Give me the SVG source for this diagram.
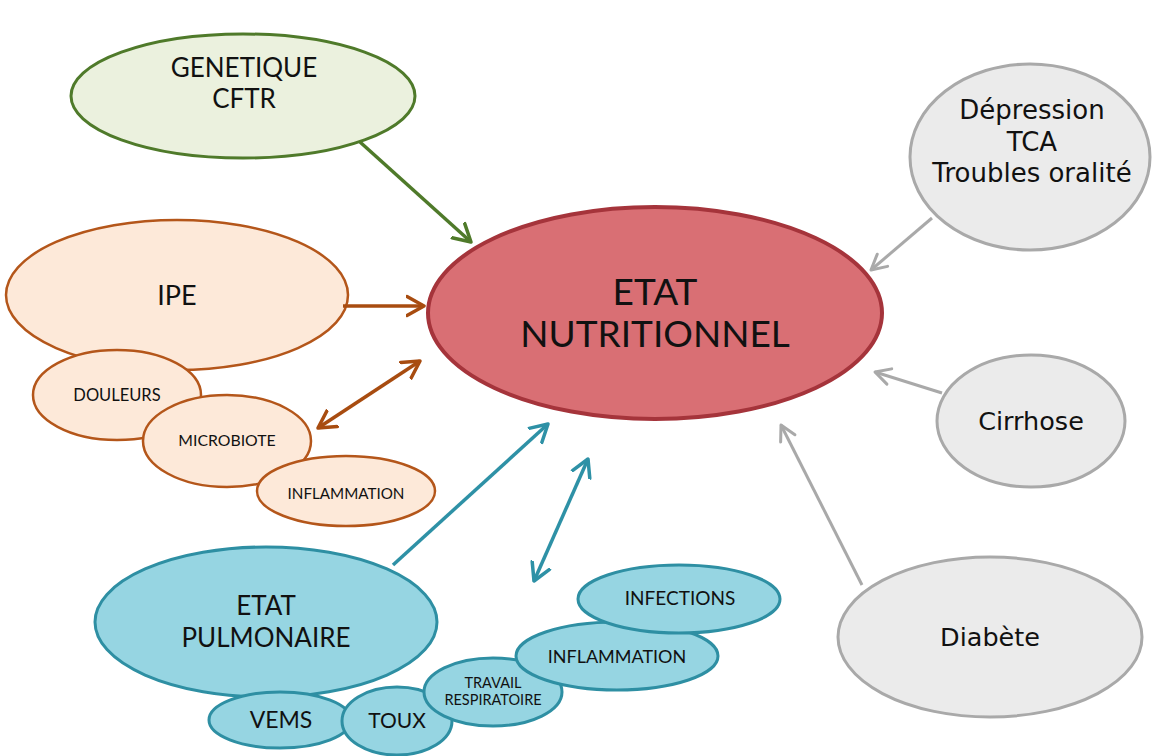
<svg xmlns="http://www.w3.org/2000/svg" width="1154" height="756" viewBox="0 0 1154 756">
<style>
text{font-family:Lato,"Liberation Sans",sans-serif;fill:#111;text-anchor:middle}
.g text{font-family:"DejaVu Sans","Liberation Sans",sans-serif}
.center{fill:#d96f74;stroke:#a5343b;stroke-width:4}
.green{fill:#ebf1de;stroke:#4f7a2a;stroke-width:3}
.orange{fill:#fde9d9;stroke:#b4561a;stroke-width:2.5}
.blue{fill:#96d5e2;stroke:#2e8fa3;stroke-width:3}
.gray{fill:#ebebeb;stroke:#a9a9a9;stroke-width:3}
.c{fill:none;stroke-width:3.5}
.cg{stroke:#4f7a2a}
.co{stroke:#a84c10}
.cb{stroke:#2e91a6}
.cgr{stroke:#a9a9a9;stroke-width:3}
</style>
<defs>
<marker id="ag" markerUnits="userSpaceOnUse" markerWidth="30" markerHeight="30" refX="18" refY="15" orient="auto-start-reverse" viewBox="0 0 30 30"><path d="M1,5.5 L18,15 L1,24.5" fill="none" stroke="#4f7a2a" stroke-width="3.5" stroke-linecap="round" stroke-linejoin="round"/></marker>
<marker id="ao" markerUnits="userSpaceOnUse" markerWidth="30" markerHeight="30" refX="18" refY="15" orient="auto-start-reverse" viewBox="0 0 30 30"><path d="M1,5.5 L18,15 L1,24.5" fill="none" stroke="#a84c10" stroke-width="3.5" stroke-linecap="round" stroke-linejoin="round"/></marker>
<marker id="ab" markerUnits="userSpaceOnUse" markerWidth="30" markerHeight="30" refX="18" refY="15" orient="auto-start-reverse" viewBox="0 0 30 30"><path d="M1,5.5 L18,15 L1,24.5" fill="none" stroke="#2e91a6" stroke-width="3.5" stroke-linecap="round" stroke-linejoin="round"/></marker>
<marker id="agr" markerUnits="userSpaceOnUse" markerWidth="30" markerHeight="30" refX="18" refY="15" orient="auto-start-reverse" viewBox="0 0 30 30"><path d="M3,7 L18,15 L3,23" fill="none" stroke="#a9a9a9" stroke-width="3" stroke-linecap="round" stroke-linejoin="round"/></marker>
</defs>
<rect width="1154" height="756" fill="#fff"/>

<g id="genetique"><ellipse class="green" cx="243" cy="96" rx="172" ry="62"/><text x="244" y="77" font-size="26">GENETIQUE</text><text x="244" y="108" font-size="26">CFTR</text></g>

<g id="ipe"><ellipse class="orange" cx="177" cy="295" rx="171" ry="75"/><text x="177" y="305" font-size="27">IPE</text></g>
<g id="douleurs"><ellipse class="orange" cx="117" cy="395" rx="84" ry="45"/><text x="117" y="401" font-size="16.5">DOULEURS</text></g>
<g id="microbiote"><ellipse class="orange" cx="227" cy="441" rx="84" ry="46"/><text x="227" y="446" font-size="15.8">MICROBIOTE</text></g>
<g id="inflammation1"><ellipse class="orange" cx="346" cy="491" rx="89" ry="35"/><text x="346" y="499" font-size="15.2">INFLAMMATION</text></g>

<g id="etat-nutritionnel"><ellipse class="center" cx="655" cy="313" rx="227" ry="106"/><text x="655" y="305" font-size="37">ETAT</text><text x="655" y="347" font-size="37">NUTRITIONNEL</text></g>

<g id="pulmonaire"><ellipse class="blue" cx="266" cy="622" rx="171" ry="75"/><text x="266" y="615" font-size="26">ETAT</text><text x="266" y="647" font-size="26">PULMONAIRE</text></g>
<g id="vems"><ellipse class="blue" cx="280" cy="720" rx="71" ry="28"/><text x="281" y="728" font-size="23">VEMS</text></g>
<g id="toux"><ellipse class="blue" cx="397" cy="721" rx="55" ry="34"/><text x="397" y="728" font-size="21">TOUX</text></g>
<g id="travail"><ellipse class="blue" cx="493" cy="692" rx="69" ry="34"/><text x="493" y="688" font-size="14.5">TRAVAIL</text><text x="493" y="705" font-size="14.5">RESPIRATOIRE</text></g>
<g id="inflammation2"><ellipse class="blue" cx="617" cy="656" rx="101" ry="34"/><text x="617" y="663" font-size="18">INFLAMMATION</text></g>
<g id="infections"><ellipse class="blue" cx="679" cy="599" rx="101" ry="34"/><text x="680" y="605" font-size="19">INFECTIONS</text></g>

<g id="depression" class="g"><ellipse class="gray" cx="1030" cy="157" rx="120" ry="93"/><text x="1032" y="119" font-size="26">Dépression</text><text x="1032" y="150.5" font-size="26">TCA</text><text x="1032" y="182" font-size="26">Troubles oralité</text></g>
<g id="cirrhose" class="g"><ellipse class="gray" cx="1031" cy="421" rx="94" ry="66"/><text x="1031" y="430" font-size="25.5">Cirrhose</text></g>
<g id="diabete" class="g"><ellipse class="gray" cx="990" cy="637" rx="152" ry="80"/><text x="990" y="646" font-size="25.5">Diabète</text></g>

<g id="connectors">
<line class="c cg" x1="360" y1="142" x2="471" y2="242" marker-end="url(#ag)"/>
<line class="c co" x1="343" y1="306" x2="424" y2="306" marker-end="url(#ao)"/>
<line class="c co" x1="318" y1="428" x2="420" y2="361" marker-start="url(#ao)" marker-end="url(#ao)"/>
<line class="c cb" x1="393" y1="565" x2="548" y2="424" marker-end="url(#ab)"/>
<line class="c cb" x1="534" y1="581" x2="588" y2="459" marker-start="url(#ab)" marker-end="url(#ab)"/>
<line class="c cgr" x1="932" y1="218" x2="871" y2="270" marker-end="url(#agr)"/>
<line class="c cgr" x1="942" y1="393" x2="875" y2="372" marker-end="url(#agr)"/>
<line class="c cgr" x1="862" y1="585" x2="781" y2="425" marker-end="url(#agr)"/>
</g>
</svg>
